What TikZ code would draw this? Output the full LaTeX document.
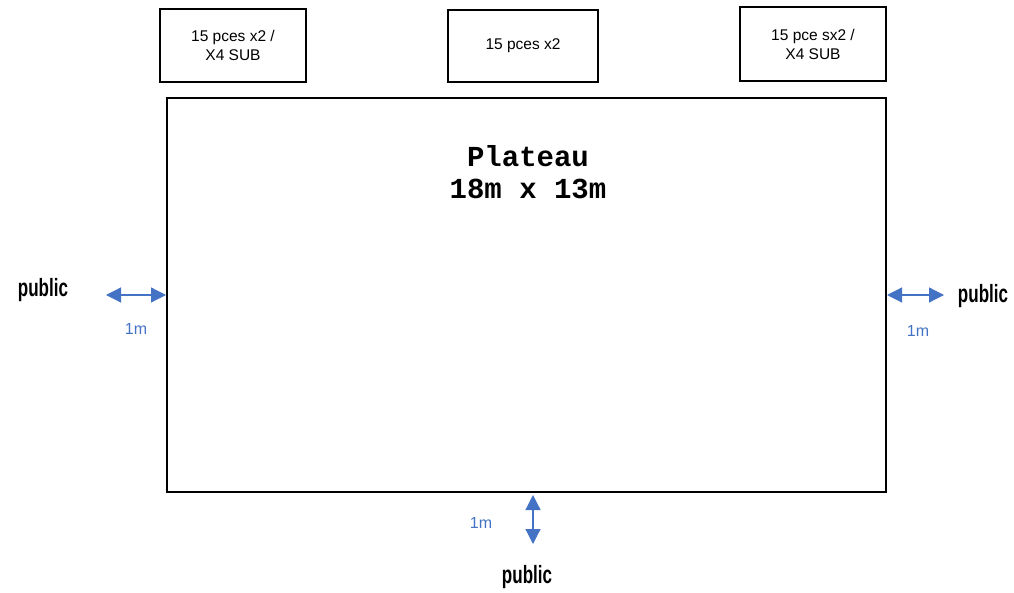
\documentclass[tikz,border=0pt]{standalone}
\usepackage{fontspec}
\setmainfont{Liberation Sans}
\newfontfamily\plafont{Liberation Mono}
\newfontfamily\pubfont[FakeStretch=0.68]{Liberation Sans}
\usetikzlibrary{arrows.meta}
\definecolor{my-blue}{HTML}{4472C4}
\tikzset{
  box/.style={draw,line width=2pt,align=center,font=\fontsize{15.5}{19}\selectfont},
  fleche/.style={my-blue,line width=1.2pt,{Triangle[length=15pt,width=15pt]}-{Triangle[length=15pt,width=15pt]}},
  cote/.style={text=my-blue,font=\fontsize{16}{18}\selectfont},
  pub/.style={font=\fontsize{25}{27}\selectfont\pubfont\bfseries}
}
\begin{document}
\begin{tikzpicture}[x=1pt,y=-1pt]
    \useasboundingbox (0,0) rectangle (1014,593);
    % plateau
    \node[draw,line width=2pt,minimum width=719pt,minimum height=394pt,inner sep=0pt] (plateau) at (526.5,295) {};
    \node[font=\fontsize{29}{32}\selectfont\plafont\bfseries,align=center] (titre) at (528,172) {Plateau\\18m x 13m};
    % boites du haut
    \node[box,minimum width=146pt,minimum height=73pt] (gauche) at (233,45.5) {15 pces x2 /\\X4 SUB};
    \node[box,minimum width=150pt,minimum height=72pt] (centre) at (523,46) {15 pces x2};
    \node[box,minimum width=146pt,minimum height=74pt] (droite) at (813,44) {15 pce sx2 /\\X4 SUB};
    % cotes
    \coordinate (pg) at (106,295);
    \coordinate (pd) at (944,295);
    \coordinate (pb) at (533,544);
    \draw[fleche] (pg) -- (plateau.west |- pg);
    \draw[fleche] (plateau.east |- pd) -- (pd);
    \draw[fleche] (plateau.south -| pb) ++(0,2) -- (pb);
    \node[cote] (cg) at (136,329) {1m};
    \node[cote] (cd) at (918,331) {1m};
    \node[cote] (cb) at (481,523) {1m};
    \node[pub] (publicg) at (43,290) {public};
    \node[pub] (publicd) at (983,296) {public};
    \node[pub] (publicb) at (527,577) {public};
\end{tikzpicture}
\end{document}
